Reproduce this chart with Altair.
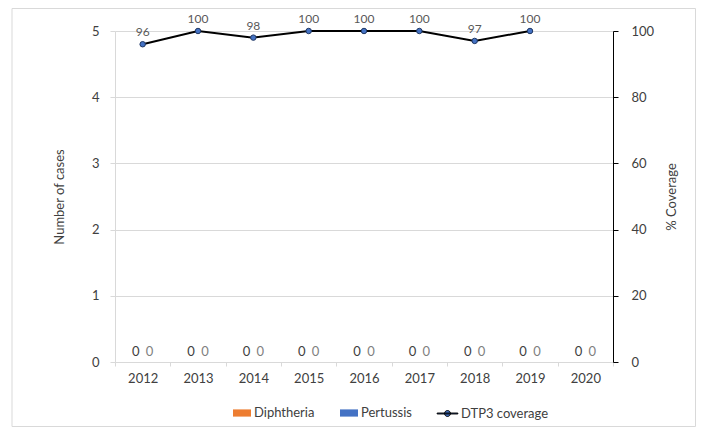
import altair as alt
import pandas as pd

years = ["2012", "2013", "2014", "2015", "2016", "2017", "2018", "2019", "2020"]
diphtheria = [0, 0, 0, 0, 0, 0, 0, 0, 0]
pertussis = [0, 0, 0, 0, 0, 0, 0, 0, 0]
dtp3 = [96, 100, 98, 100, 100, 100, 97, 100, None]
bar_series = ["Diphtheria", "Pertussis"]
bar_colors = ["#ED7D31", "#4472C4"]
line_series = "DTP3 coverage"
left_ticks = [0, 1, 2, 3, 4, 5]
right_ticks = [0, 20, 40, 60, 80, 100]

bars_df = pd.DataFrame({
    "year": years * 2,
    "series": [bar_series[0]] * len(years) + [bar_series[1]] * len(years),
    "cases": diphtheria + pertussis,
})
line_df = pd.DataFrame({"year": years, "coverage": dtp3, "series": [line_series] * len(years)})

FONT = "Lato"
TXT = "#404040"
GRID = "#d9d9d9"
FS = 13

X = alt.X(
    "year:N",
    sort=years,
    scale=alt.Scale(domain=years, paddingInner=0, paddingOuter=0),
    axis=alt.Axis(title=None, labelAngle=0, tickBand="extent", domainColor=GRID,
                  tickColor=GRID, tickSize=4, labelPadding=6, labelColor=TXT,
                  labelFontSize=FS, grid=False),
)
XO = alt.XOffset("series:N", scale=alt.Scale(domain=bar_series,
                                              paddingInner=0, paddingOuter=1))
YL = alt.Y(
    "cases:Q",
    scale=alt.Scale(domain=[0, 5]),
    axis=alt.Axis(title="Number of cases", values=left_ticks, grid=True, gridColor=GRID,
                  domainColor=GRID, tickColor=GRID, tickSize=5, labelPadding=11,
                  labelColor=TXT, labelFontSize=FS, titleColor=TXT, titleFontSize=FS,
                  titleFontWeight="normal", titlePadding=25),
)
YR = alt.Y(
    "coverage:Q",
    scale=alt.Scale(domain=[0, 100]),
    axis=alt.Axis(orient="right", title="% Coverage", values=right_ticks, grid=False,
                  domainColor="black", tickColor="black", tickSize=5, labelPadding=13,
                  labelColor=TXT, labelFontSize=FS, titleColor=TXT, titleFontSize=FS,
                  titleFontWeight="normal", titleAngle=270, titlePadding=25),
)

bar_legend = alt.Legend(
    orient="none", legendX=118, legendY=373, direction="horizontal", title=None,
    symbolType="M-1,-0.4H1V0.4H-1Z", symbolSize=324, symbolStrokeWidth=0,
    labelFontSize=FS, labelColor=TXT, labelFont=FONT, columnPadding=25, labelOffset=3,
)
line_legend = alt.Legend(
    orient="none", legendX=323, legendY=373, direction="horizontal", title=None,
    symbolType="M-1.15,-0.05H1.15V0.05H-1.15Z M0.33,0A0.33,0.33,0,1,1,-0.33,0A0.33,0.33,0,1,1,0.33,0Z",
    symbolSize=324, symbolFillColor="#4472C4", symbolStrokeWidth=1,
    labelFontSize=FS, labelColor=TXT, labelFont=FONT, labelOffset=4,
)

bar = alt.Chart(bars_df).mark_bar().encode(
    x=X, xOffset=XO, y=YL,
    color=alt.Color("series:N", scale=alt.Scale(domain=bar_series, range=bar_colors),
                    legend=bar_legend),
)
t_d = alt.Chart(bars_df).transform_filter("datum.series == 'Diphtheria'").mark_text(
    dy=-10, fontSize=FS, color=TXT, font=FONT
).encode(x=X, xOffset=XO, y=YL, text="cases:Q")
t_p = alt.Chart(bars_df).transform_filter("datum.series == 'Pertussis'").mark_text(
    dy=-10, fontSize=FS, color="#7f7f7f", font=FONT
).encode(x=X, xOffset=XO, y=YL, text="cases:Q")

bars_layer = alt.layer(bar, t_d, t_p)

line = alt.Chart(line_df).mark_line(strokeWidth=2).encode(
    x=X, y=YR,
    stroke=alt.Stroke("series:N", scale=alt.Scale(domain=[line_series], range=["#000000"]),
                      legend=line_legend),
)
pts = alt.Chart(line_df).transform_filter("datum.coverage != null").mark_point(
    filled=True, fill="#4472C4", stroke="#203864", strokeWidth=1, size=30, opacity=1
).encode(x=X, y=YR)
line_text = alt.Chart(line_df).transform_filter("datum.coverage != null").mark_text(
    dy=-12, fontSize=12, color="#595959", font=FONT
).encode(x=X, y=YR, text="coverage:Q")

line_layer = alt.layer(line, pts, line_text)

border = alt.Chart(alt.Data(values=[{}])).mark_rect(
    fill="transparent", stroke=GRID, strokeWidth=1
).encode(x=alt.value(-103), x2=alt.value(580.5), y=alt.value(-22.5), y2=alt.value(395.5))

chart = alt.layer(border, bars_layer, line_layer).resolve_scale(y="independent").properties(
    width=498, height=331,
    autosize=alt.AutoSizeParams(type="none"),
    padding={"left": 107, "top": 23, "right": 83, "bottom": 65},
).configure(font=FONT).configure_view(stroke=None)

chart.save("out.html", embed_options={"renderer": "svg", "actions": False})
